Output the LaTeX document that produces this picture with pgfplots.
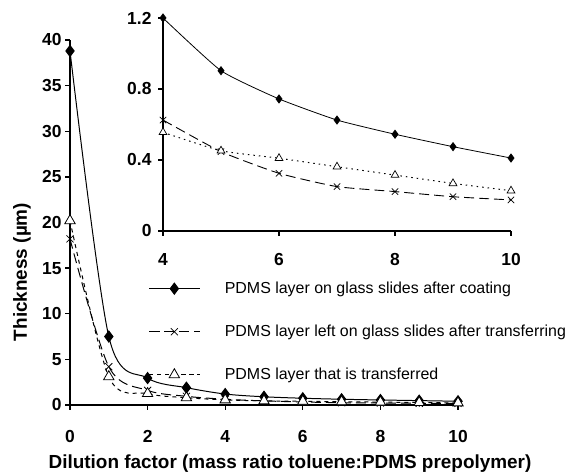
\documentclass[border=0pt]{standalone}
\usepackage{fontspec}
\setmainfont{Liberation Sans}
\usepackage{pgfplots}
\pgfplotsset{compat=1.18}

\pgfplotsset{
  chartaxis/.style={
    scale only axis,
    axis x line=bottom, axis y line=left,
    axis line style={line width=1.6pt,-},
    tick style={line width=1.3pt,black},
    major tick length=5bp,
    tick align=outside,
    ticklabel style={font=\bfseries\fontsize{17.5}{17.5}\selectfont},
    /pgf/number format/assume math mode=true,
    clip=false,
  },
  sA/.style={black, line width=1pt, mark=diamond*, mark size=5.5bp, mark options={solid,fill=black}},
  sB/.style={black, line width=1pt, dash pattern=on 10bp off 5bp, mark=x, mark size=5bp, mark options={solid,line width=0.8pt}},
  sC/.style={black, line width=1pt, dash pattern=on 4bp off 4bp, mark=triangle*, mark size=6bp, mark options={solid,fill=white,line width=0.8pt}},
}

\begin{document}
\begin{tikzpicture}[x=1bp,y=1bp]
\path (0,0) rectangle (573,473);

% main chart
\begin{axis}[chartaxis,
  at={(70bp,68bp)}, anchor=south west,
  width=388bp, height=365bp,
  xmin=0, xmax=10, ymin=0, ymax=40,
  xtick={0,2,...,10}, ytick={0,5,...,40},
  xticklabel style={yshift=-17bp},
  legend style={draw=none, fill=none, at={(rel axis cs:0.195,0.348)}, anchor=north west,
    font=\fontsize{16}{16}\selectfont, row sep=26bp,
    nodes={inner xsep=10bp},
    /tikz/every odd column/.append style={column sep=15bp}},
  legend cell align=left,
  legend image code/.code={\draw[mark repeat=2,mark phase=2,#1] plot coordinates {(0bp,0bp)(25bp,0bp)(50bp,0bp)};},
]
\addplot[sA, smooth] coordinates {
  (0,38.8) (1,7.5) (2,2.95) (3,1.9) (4,1.2) (5,0.90) (6,0.74) (7,0.63) (8,0.55) (9,0.48) (10,0.41)};
\addlegendentry{PDMS layer on glass slides after coating}
\addplot[sB, smooth] coordinates {
  (0,18.2) (1,4.2) (2,1.6) (3,0.95) (4,0.63) (5,0.45) (6,0.33) (7,0.25) (8,0.22) (9,0.19) (10,0.18)};
\addlegendentry{PDMS layer left on glass slides after transferring}
\addplot[sC, smooth] coordinates {
  (0,20.2) (1,3.1) (2,1.25) (3,0.8) (4,0.56) (5,0.45) (6,0.41) (7,0.36) (8,0.32) (9,0.27) (10,0.23)};
\addlegendentry{PDMS layer that is transferred}
\end{axis}

% inset
\begin{axis}[chartaxis,
  at={(163bp,242bp)}, anchor=south west,
  width=348bp, height=213bp,
  xmin=4, xmax=10, ymin=0, ymax=1.2,
  xtick={4,6,8,10}, ytick={0,0.4,0.8,1.2},
  xticklabel style={yshift=-14bp},
  yticklabel style={xshift=-3bp},
]
\addplot[black, line width=0.8pt, mark=diamond*, mark size=4bp, smooth, tension=0.3] coordinates {
  (4,1.2) (5,0.903) (6,0.744) (7,0.625) (8,0.545) (9,0.475) (10,0.411)};
\addplot[black, line width=0.9pt, dash pattern=on 10bp off 5bp, mark=x, mark size=4.5bp, mark options={solid,line width=0.7pt}, smooth, tension=0.3] coordinates {
  (4,0.625) (5,0.447) (6,0.325) (7,0.25) (8,0.222) (9,0.193) (10,0.175)};
\addplot[black, line width=1pt, dash pattern=on 1.5bp off 4bp, mark=triangle*, mark size=4.5bp, mark options={solid,fill=white,line width=0.7pt}, smooth, tension=0.3] coordinates {
  (4,0.556) (5,0.452) (6,0.41) (7,0.362) (8,0.315) (9,0.268) (10,0.227)};
\end{axis}

\node[font=\bfseries\fontsize{19}{19}\selectfont, inner sep=0pt, anchor=base] at (290,4) {Dilution factor (mass ratio toluene:PDMS prepolymer)};
\node[font=\bfseries\fontsize{19}{19}\selectfont, inner sep=0pt, rotate=90] at (22,201) {Thickness (µm)};
\pgfresetboundingbox
\path (0,0) rectangle (573,473);
\end{tikzpicture}
\end{document}
